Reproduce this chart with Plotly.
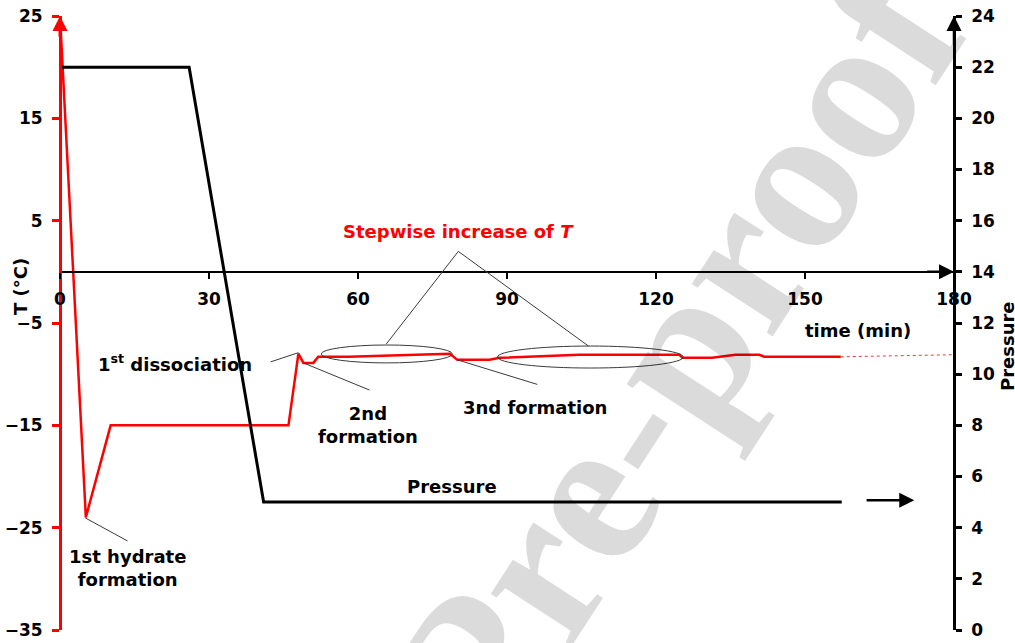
import plotly.graph_objects as go

# Temperature record (min, °C)
time_T = [0, 5.2, 10.2, 46, 48, 49, 51, 52, 58, 71, 78.5, 80, 86.5, 88.5,
          104.6, 124.7, 125.3, 131.3, 136, 140.8, 141.8, 157.2]
temp_T = [25, -24, -15, -15, -8, -8.9, -8.9, -8.3, -8.3, -8.1, -8.0, -8.6, -8.6, -8.4,
          -8.1, -8.1, -8.4, -8.4, -8.1, -8.1, -8.3, -8.3]

# Extrapolated temperature (dotted)
time_T_ext = [157.2, 180]
temp_T_ext = [-8.3, -8.1]

# Pressure record (min, pressure)
time_P = [0, 26, 41, 157.4]
pres_P = [22, 22, 5, 5]

x_ticks = [0, 30, 60, 90, 120, 150, 180]
t_ticks = [-35, -25, -15, -5, 5, 15, 25]
p_ticks = list(range(0, 26, 2))

RED = "#ff0000"
FONT = "DejaVu Sans"
LEAD = "#3a3a3a"

fig = go.Figure()

fig.add_trace(go.Scatter(x=time_T, y=temp_T, mode="lines",
                         line=dict(color=RED, width=2.5), cliponaxis=False,
                         yaxis="y", showlegend=False))
fig.add_trace(go.Scatter(x=time_T_ext, y=temp_T_ext, mode="lines",
                         line=dict(color="#e04040", width=1, dash="dot"),
                         yaxis="y", showlegend=False))
fig.add_trace(go.Scatter(x=time_P, y=pres_P, mode="lines",
                         line=dict(color="black", width=3), cliponaxis=False,
                         yaxis="y2", showlegend=False))

tick_font = dict(family=FONT, size=17, color="black", weight="bold")
lab_font = dict(family=FONT, size=18, color="black", weight="bold")

fig.update_layout(
    width=1015, height=643, autosize=False,
    margin=dict(l=60, r=61, t=16, b=13),
    paper_bgcolor="white", plot_bgcolor="white",
    xaxis=dict(range=[0, 180], tickvals=x_ticks, showgrid=False, zeroline=False,
               showline=True, linecolor="black", linewidth=2,
               ticks="outside", ticklen=6, tickwidth=2, tickcolor="black",
               anchor="free", position=35 / 60, tickfont=tick_font,
               ticklabelstandoff=6, automargin=False),
    yaxis=dict(range=[-35, 25], tickvals=t_ticks, showgrid=False, zeroline=False,
               showline=True, linecolor=RED, linewidth=3,
               ticks="outside", ticklen=7, tickwidth=3, tickcolor=RED,
               anchor="free", position=0, tickfont=tick_font, ticklabelstandoff=6,
               automargin=False),
    yaxis2=dict(range=[0, 24], tickvals=p_ticks, showgrid=False, zeroline=False,
                showline=True, linecolor="black", linewidth=2.5,
                ticks="outside", ticklen=6, tickwidth=2.5, tickcolor="black",
                overlaying="y", side="right", anchor="free", position=1,
                tickfont=tick_font, ticklabelstandoff=6, automargin=False),
)

annotations = []


def arrow(x, y, ax, ay, yref, color, width, size):
    return dict(x=x, y=y, xref="x", yref=yref, ax=ax, ay=ay, axref="x", ayref=yref,
                showarrow=True, arrowhead=2, arrowsize=size, arrowwidth=width,
                arrowcolor=color, text=" ")


# axis arrows
annotations.append(arrow(0, 25, 0, 22, "y", RED, 3, 1))
annotations.append(arrow(180, 24, 180, 22.5, "y2", "black", 2.5, 1.2))
annotations.append(arrow(180, 0, 174, 0, "y", "black", 2.5, 1.2))
# pressure continuation arrow
annotations.append(arrow(172, 5.07, 161.8, 5.07, "y2", "black", 2.5, 1.2))

# axis titles
annotations.append(dict(x=-0.0447, y=0.5586, xref="paper", yref="paper", text="T (°C)",
                        xanchor="center", yanchor="middle",
                        textangle=-90, showarrow=False, font=lab_font))
annotations.append(dict(x=1.0593, y=0.4625, xref="paper", yref="paper", text="Pressure",
                        xanchor="center", yanchor="middle",
                        textangle=-90, showarrow=False, font=lab_font))
annotations.append(dict(x=160.6, y=-5.73, xref="x", yref="y", text="time (min)",
                        showarrow=False, font=lab_font))

# labels in the plot
annotations.append(dict(x=80.2, y=3.9, xref="x", yref="y", text="Stepwise increase of <i>T</i>",
                        showarrow=False, font=dict(family=FONT, size=18, color=RED, weight="bold")))
annotations.append(dict(x=23.2, y=-8.9, xref="x", yref="y", text="1<sup>st</sup> dissociation",
                        showarrow=False, font=lab_font))
annotations.append(dict(x=62.1, y=-15.0, xref="x", yref="y", text="2nd<br>formation",
                        showarrow=False, font=lab_font))
annotations.append(dict(x=95.7, y=-13.3, xref="x", yref="y", text="3nd formation",
                        showarrow=False, font=lab_font))
annotations.append(dict(x=13.6, y=-28.9, xref="x", yref="y", text="1st hydrate<br>formation",
                        showarrow=False, font=lab_font))
annotations.append(dict(x=79.0, y=-21.0, xref="x", yref="y", text="Pressure",
                        showarrow=False, font=lab_font))

# watermark
annotations.append(dict(x=0.688, y=0.447, xref="paper", yref="paper", text="<b>Pre-proof</b>",
                        xanchor="center", yanchor="middle",
                        textangle=-57, showarrow=False,
                        font=dict(family="Liberation Serif", size=210, color="rgba(0,0,0,0.14)")))

fig.update_layout(annotations=annotations)

# leader lines and ellipses
shapes = []
for (x0, y0, x1, y1) in [
    (80.2, 2.0, 65.7, -7.05),
    (80.2, 2.0, 106.4, -7.25),
    (42.4, -8.8, 48.0, -7.9),
    (49.0, -8.9, 62.3, -11.55),
    (80.0, -8.6, 96.1, -11.0),
    (5.1, -24.05, 13.6, -26.3),
]:
    shapes.append(dict(type="line", xref="x", yref="y", x0=x0, y0=y0, x1=x1, y1=y1,
                       line=dict(color=LEAD, width=1)))
for (x0, x1, y0, y1) in [(52.6, 79.0, -7.15, -8.9), (88.1, 125.5, -7.25, -9.4)]:
    shapes.append(dict(type="circle", xref="x", yref="y", x0=x0, x1=x1, y0=y0, y1=y1,
                       line=dict(color=LEAD, width=1), fillcolor="rgba(0,0,0,0)"))
fig.update_layout(shapes=shapes)

fig.write_html("out.html")
